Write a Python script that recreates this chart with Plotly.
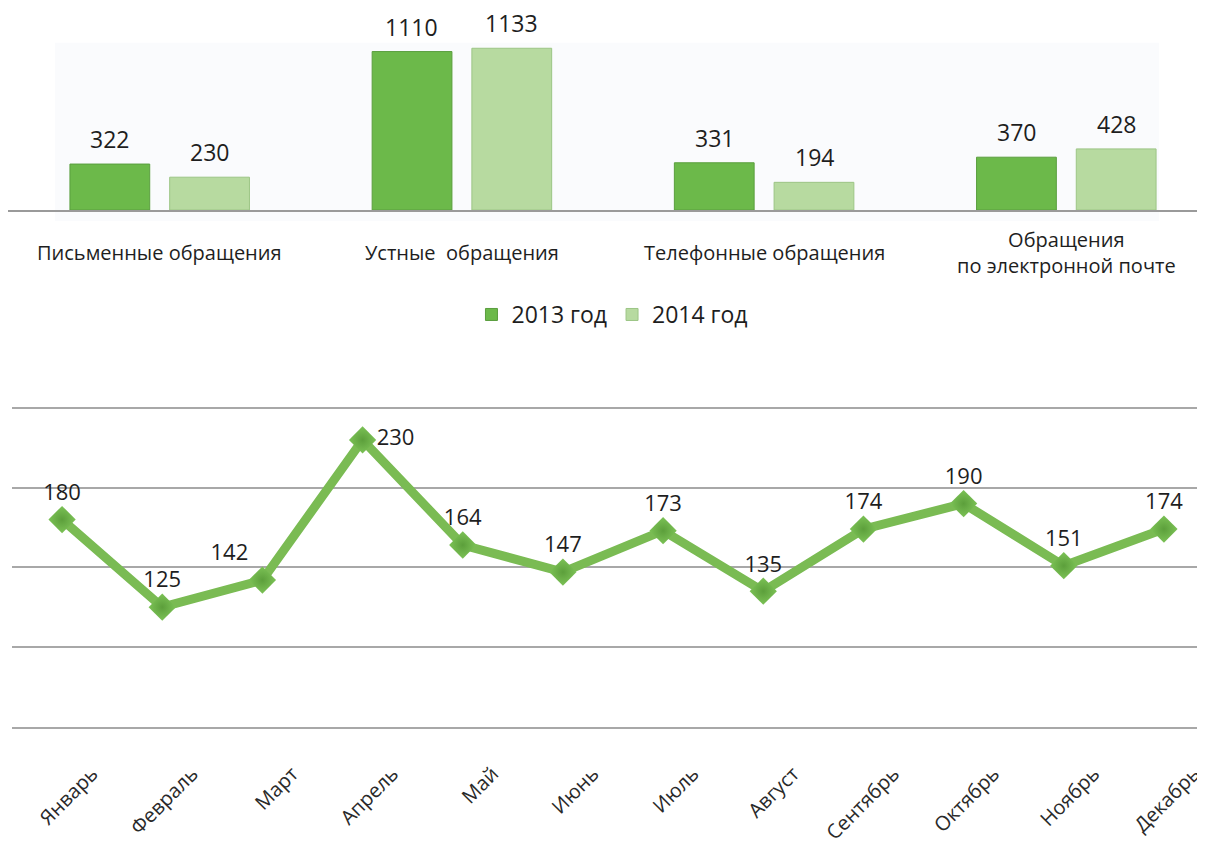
import plotly.graph_objects as go

# ---- data ----
categories = ["Письменные обращения", "Устные  обращения", "Телефонные обращения",
              "Обращения<br>по электронной почте"]
series_names = ["2013 год", "2014 год"]
values_2013 = [322, 1110, 331, 370]
values_2014 = [230, 1133, 194, 428]

months = ["Январь", "Февраль", "Март", "Апрель", "Май", "Июнь", "Июль",
          "Август", "Сентябрь", "Октябрь", "Ноябрь", "Декабрь"]
monthly = [180, 125, 142, 230, 164, 147, 173, 135, 174, 190, 151, 174]

# ---- style ----
OFF = 8  # page body margin
W, H = 1205 - OFF, 845 - OFF
FONT = "Open Sans, Noto Sans, sans-serif"
TXT = "#1e1e1e"
C2013 = "#6cb94a"
C2014 = "#b7daa0"
LINE_C = "#7abb53"
GRID = "#a8a8a8"

def py(p):
    return 1 - (p - OFF) / H

def px(p):
    return (p - OFF) / W

fig = go.Figure()

fig.add_trace(go.Bar(x=categories, y=values_2013, name=series_names[0],
                     marker=dict(color=C2013, line=dict(color="#5a9e3e", width=1)),
                     xaxis="x", yaxis="y"))
fig.add_trace(go.Bar(x=categories, y=values_2014, name=series_names[1],
                     marker=dict(color=C2014, line=dict(color="#9cc585", width=1)),
                     xaxis="x", yaxis="y"))

positions = ["top center", "top center", "top left", "middle right", "top center",
             "top center", "top center", "top center", "top center", "top center",
             "top center", "top center"]
fig.add_trace(go.Scatter(x=months, y=monthly, mode="lines+markers+text",
                         text=[str(v) for v in monthly], textposition=positions,
                         textfont=dict(size=22, color=TXT, family=FONT),
                         line=dict(color=LINE_C, width=9),
                         marker=dict(symbol="diamond", size=21, color="#7cc256",
                                     gradient=dict(type="radial", color="#5c9f3b"),
                                     line=dict(width=0)),
                         cliponaxis=False, showlegend=False,
                         xaxis="x2", yaxis="y2"))

annotations = []
for cat, v in zip(categories, values_2013):
    annotations.append(dict(x=cat, y=v, xref="x", yref="y", text=str(v), showarrow=False,
                            xshift=-50, yshift=7, yanchor="bottom",
                            font=dict(size=23, color=TXT, family=FONT)))
for cat, v in zip(categories, values_2014):
    annotations.append(dict(x=cat, y=v, xref="x", yref="y", text=str(v), showarrow=False,
                            xshift=50, yshift=7, yanchor="bottom",
                            font=dict(size=23, color=TXT, family=FONT)))
for cat in categories:
    annotations.append(dict(x=cat, y=0, xref="x", yref="y", text=cat, showarrow=False,
                            yshift=-42, yanchor="middle",
                            font=dict(size=20, color=TXT, family=FONT)))

fig.update_layout(
    width=W, height=H,
    margin=dict(l=0, r=0, t=0, b=0),
    paper_bgcolor="white", plot_bgcolor="rgba(0,0,0,0)",
    font=dict(family=FONT, color=TXT),
    barmode="group", bargap=0.34, bargroupgap=0.2,
    showlegend=True,
    legend=dict(orientation="h", x=px(614), xanchor="center", y=py(316), yanchor="middle",
                font=dict(size=23, color=TXT), bgcolor="rgba(0,0,0,0)"),
    xaxis=dict(domain=[0, 1], type="category", range=[-0.502, 3.449],
               showticklabels=False, showgrid=False, ticks="",
               showline=True, linecolor="#9a9a9a", linewidth=2, anchor="y"),
    yaxis=dict(domain=[py(211), 1], range=[0, 1415], visible=False, anchor="x"),
    xaxis2=dict(domain=[px(12), 1], type="category", range=[-0.5, 11.38],
                showgrid=False, ticks="", showline=True, linecolor=GRID, linewidth=1.5,
                tickangle=-45, ticklabelshift=30, ticklabelstandoff=26,
                tickfont=dict(size=20, color="#2a2a2a", family=FONT), anchor="y2"),
    yaxis2=dict(domain=[py(730), py(402)], range=[50, 255], dtick=50, tick0=50,
                showgrid=True, gridcolor=GRID, gridwidth=1.5, showticklabels=False,
                zeroline=False, showline=False, anchor="x2"),
    annotations=annotations,
    shapes=[dict(type="rect", xref="paper", yref="paper", x0=px(55), x1=px(1162),
                 y0=py(222), y1=py(43), fillcolor="#fafbfd", line=dict(width=0),
                 layer="below")],
)

fig.write_html("out.html")
